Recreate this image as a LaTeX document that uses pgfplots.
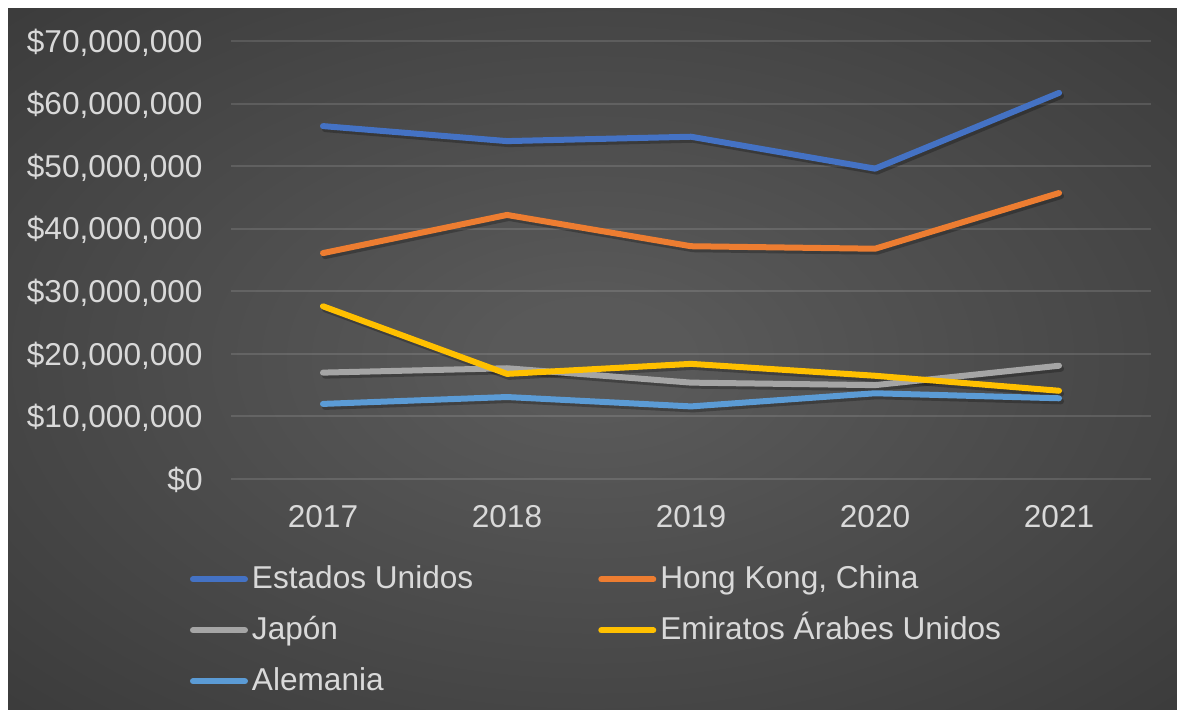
\documentclass[border=0pt]{standalone}
\usepackage{pgfplots}
\pgfplotsset{compat=1.18}
\usepackage{fontspec}
\setmainfont{Liberation Sans}
\definecolor{cUS}{HTML}{4472C4}
\definecolor{cHK}{HTML}{ED7D31}
\definecolor{cJP}{HTML}{A5A5A5}
\definecolor{cAE}{HTML}{FFC000}
\definecolor{cDE}{HTML}{5B9BD5}
\definecolor{txt}{HTML}{D9D9D9}
\definecolor{bgin}{HTML}{595959}
\definecolor{bgmid}{HTML}{2E2E2E}
\definecolor{bgout}{HTML}{262626}
\pgfdeclareradialshading{bgshade}{\pgfpoint{0bp}{0bp}}{color(0bp)=(bgin); color(4bp)=(bgin); color(50bp)=(bgmid); color(71bp)=(bgout)}
\pgfplotstableread{
x US HK JP AE DE
0 56400000 36100000 17000000 27600000 12000000
1 54000000 42200000 17700000 16800000 13100000
2 54700000 37200000 15400000 18400000 11600000
3 49600000 36800000 15000000 16500000 13700000
4 61700000 45700000 18100000 14100000 12900000
}\datatable
\begin{document}
\begin{tikzpicture}
\fill[white] (0pt,0pt) rectangle (588.5pt,355pt);
\shade[shading=bgshade] (4pt,0pt) rectangle (588.5pt,350.5pt);
\begin{axis}[
  at={(115.5pt,115.5pt)}, anchor=south west,
  scale only axis, width=460pt, height=219pt,
  xmin=-0.5, xmax=4.5, ymin=0, ymax=70000000,
  xtick={0,1,2,3,4}, xticklabels={2017,2018,2019,2020,2021},
  ytick={0,10000000,20000000,30000000,40000000,50000000,60000000,70000000},
  yticklabels={{\$0},{\$10,000,000},{\$20,000,000},{\$30,000,000},{\$40,000,000},{\$50,000,000},{\$60,000,000},{\$70,000,000}},
  scaled y ticks=false,
  axis line style={draw=none},
  major tick length=0pt,
  ymajorgrids,
  major grid style={white, opacity=0.12, line width=1pt},
  tick label style={font=\fontsize{15.8}{18}\selectfont, text=txt},
  yticklabel style={anchor=base east, inner sep=0pt, xshift=-14pt, yshift=-5.6pt},
  xticklabel style={anchor=base, inner sep=0pt, yshift=-24.5pt},
  clip=false,
  legend columns=2,
  legend cell align=left,
  legend style={
    at={(axis description cs:-0.0446,-0.196)}, anchor=north west,
    draw=none, fill=none, inner sep=0pt, outer sep=0pt,
    font=\fontsize{15.8}{18}\selectfont, text=txt,
    row sep=10pt,
    nodes={inner sep=0pt, text height=12pt, text depth=3.5pt},
    /tikz/every odd column/.append style={column sep=2pt},
    /tikz/every even column/.append style={column sep=62.5pt},
  },
  legend image code/.code={\draw[#1, line width=3pt, line cap=round] (1.5pt,0.5pt) -- (27.5pt,0.5pt);},
  every axis plot/.append style={line width=3pt, line cap=round, line join=round},
]
\addplot[black, opacity=0.25, xshift=1pt, yshift=-1.5pt, forget plot] table[x=x,y=US] {\datatable};
\addplot[black, opacity=0.25, xshift=1pt, yshift=-1.5pt, forget plot] table[x=x,y=HK] {\datatable};
\addplot[black, opacity=0.25, xshift=1pt, yshift=-1.5pt, forget plot] table[x=x,y=JP] {\datatable};
\addplot[black, opacity=0.25, xshift=1pt, yshift=-1.5pt, forget plot] table[x=x,y=AE] {\datatable};
\addplot[black, opacity=0.25, xshift=1pt, yshift=-1.5pt, forget plot] table[x=x,y=DE] {\datatable};
\addplot[cUS] table[x=x,y=US] {\datatable};
\addlegendentry{Estados Unidos}
\addplot[cHK] table[x=x,y=HK] {\datatable};
\addlegendentry{Hong Kong, China}
\addplot[cJP] table[x=x,y=JP] {\datatable};
\addlegendentry{Japón}
\addplot[cAE] table[x=x,y=AE] {\datatable};
\addlegendentry{Emiratos Árabes Unidos}
\addplot[cDE] table[x=x,y=DE] {\datatable};
\addlegendentry{Alemania}
\end{axis}
\pgfresetboundingbox
\path[use as bounding box] (0pt,0pt) rectangle (588.5pt,355pt);
\end{tikzpicture}
\end{document}
